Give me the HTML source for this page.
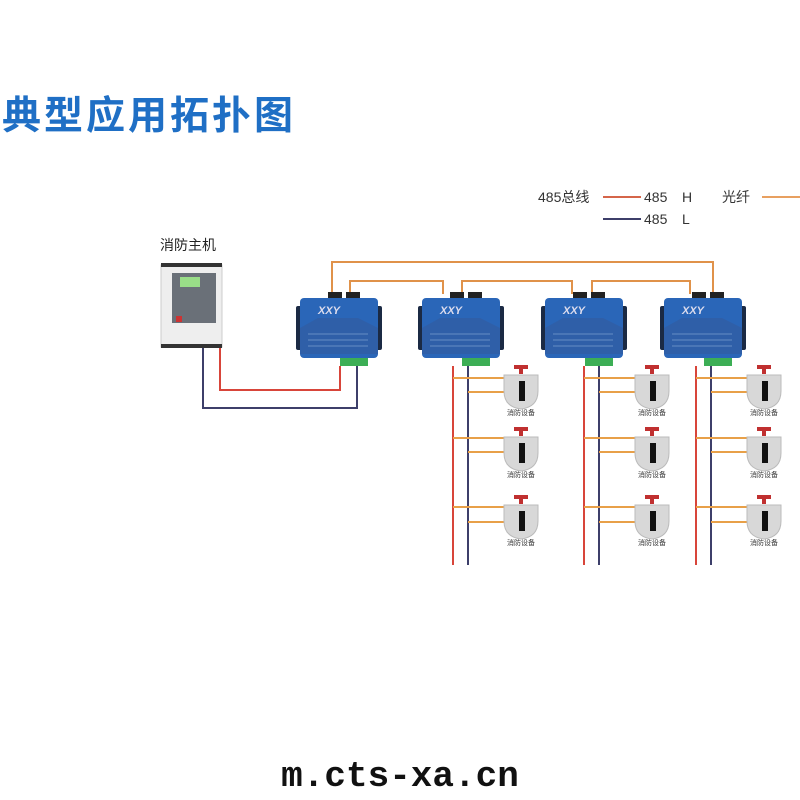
<!DOCTYPE html>
<html><head><meta charset="utf-8"><style>
body{margin:0;background:#fff;width:800px;height:800px;overflow:hidden}
svg{display:block}
</style></head><body>
<svg width="800" height="800" viewBox="0 0 800 800" xmlns="http://www.w3.org/2000/svg" font-family="Liberation Sans, Noto Sans CJK SC, sans-serif">
<defs>
<g id="dev">
  <rect x="30" y="-6" width="14" height="8" fill="#222"/>
  <rect x="48" y="-6" width="14" height="8" fill="#222"/>
  <rect x="-2" y="8" width="6" height="44" rx="2" fill="#1b2a44"/>
  <rect x="78" y="8" width="6" height="44" rx="2" fill="#1b2a44"/>
  <rect x="2" y="0" width="78" height="60" rx="4" fill="#2a66b8"/>
  <path d="M2 30 L20 20 L60 20 L80 30 L80 56 L2 56 Z" fill="#2f5fa8"/>
  <text x="20" y="16" font-size="11" font-style="italic" font-weight="bold" fill="#dde">ΧΧΥ</text>
  <line x1="10" y1="36" x2="70" y2="36" stroke="#9bd" stroke-width="0.6"/>
  <line x1="10" y1="42" x2="70" y2="42" stroke="#9bd" stroke-width="0.6"/>
  <line x1="10" y1="48" x2="70" y2="48" stroke="#9bd" stroke-width="0.6"/>
  <rect x="42" y="60" width="28" height="8" fill="#3cae55"/>
</g>
<g id="det">
  <rect x="10" y="0" width="14" height="4" fill="#c03030"/>
  <rect x="15" y="4" width="4" height="5" fill="#c03030"/>
  <path d="M0 10 H34 V26 Q34 42 17 44 Q0 42 0 26 Z" fill="#d8d8d8" stroke="#bbb"/>
  <rect x="15" y="16" width="6" height="20" fill="#111"/>
  <text x="17" y="50" font-size="7" text-anchor="middle" fill="#333">消防设备</text>
</g>
</defs>
<text x="2" y="129" font-size="39" font-weight="bold" fill="#1f6fc5" letter-spacing="3" font-family="Liberation Sans, Noto Sans CJK SC, sans-serif">典型应用拓扑图</text>
<!-- legend -->
<text x="538" y="202" font-size="14" fill="#333">485总线</text>
<line x1="603" y1="197" x2="641" y2="197" stroke="#d5654a" stroke-width="2"/>
<text x="644" y="202" font-size="14" fill="#333">485</text>
<text x="682" y="202" font-size="14" fill="#333">H</text>
<text x="722" y="202" font-size="14" fill="#333">光纤</text>
<line x1="762" y1="197" x2="800" y2="197" stroke="#e8a060" stroke-width="2"/>
<line x1="603" y1="219" x2="641" y2="219" stroke="#3d3f6a" stroke-width="2"/>
<text x="644" y="224" font-size="14" fill="#333">485</text>
<text x="682" y="224" font-size="14" fill="#333">L</text>
<!-- master -->
<text x="160" y="250" font-size="14" fill="#222">消防主机</text>
<rect x="161" y="265" width="61" height="82" fill="#eee" stroke="#ccc"/>
<rect x="161" y="263" width="61" height="4" fill="#333"/>
<rect x="161" y="344" width="61" height="4" fill="#333"/>
<rect x="172" y="273" width="44" height="50" fill="#6a7078"/>
<rect x="180" y="277" width="20" height="10" fill="#9d8"/>
<rect x="176" y="316" width="6" height="6" fill="#c33"/>
<!-- master wires -->
<polyline points="220,348 220,390 340,390 340,366" fill="none" stroke="#d8453a" stroke-width="2"/>
<polyline points="203,348 203,408 357,408 357,366" fill="none" stroke="#3d3f6a" stroke-width="2"/>
<!-- fiber -->
<polyline points="332,294 332,262 713,262 713,294" fill="none" stroke="#e0924a" stroke-width="2"/>
<polyline points="350,294 350,281 443,281 443,294" fill="none" stroke="#e0924a" stroke-width="2"/>
<polyline points="462,294 462,281 572,281 572,294" fill="none" stroke="#e0924a" stroke-width="2"/>
<polyline points="592,294 592,281 690,281 690,294" fill="none" stroke="#e0924a" stroke-width="2"/>
<use href="#dev" x="298" y="298"/>
<use href="#dev" x="420" y="298"/>
<use href="#dev" x="543" y="298"/>
<use href="#dev" x="662" y="298"/>
<!-- branches -->
<g id="br">
<line x1="453" y1="366" x2="453" y2="565" stroke="#d8453a" stroke-width="2"/>
<line x1="468" y1="366" x2="468" y2="565" stroke="#3d3f6a" stroke-width="2"/>
<g stroke="#e8a048" stroke-width="2">
<line x1="453" y1="378" x2="505" y2="378"/><line x1="468" y1="392" x2="505" y2="392"/>
<line x1="453" y1="438" x2="505" y2="438"/><line x1="468" y1="452" x2="505" y2="452"/>
<line x1="453" y1="507" x2="505" y2="507"/><line x1="468" y1="522" x2="505" y2="522"/>
</g>
<use href="#det" x="504" y="365"/>
<use href="#det" x="504" y="427"/>
<use href="#det" x="504" y="495"/>
</g>
<use href="#br" x="131" y="0"/>
<use href="#br" x="243" y="0"/>
<text x="400" y="786" font-size="36" font-weight="bold" text-anchor="middle" font-family="Liberation Mono, monospace" fill="#111">m.cts-xa.cn</text>
</svg>
</body></html>
